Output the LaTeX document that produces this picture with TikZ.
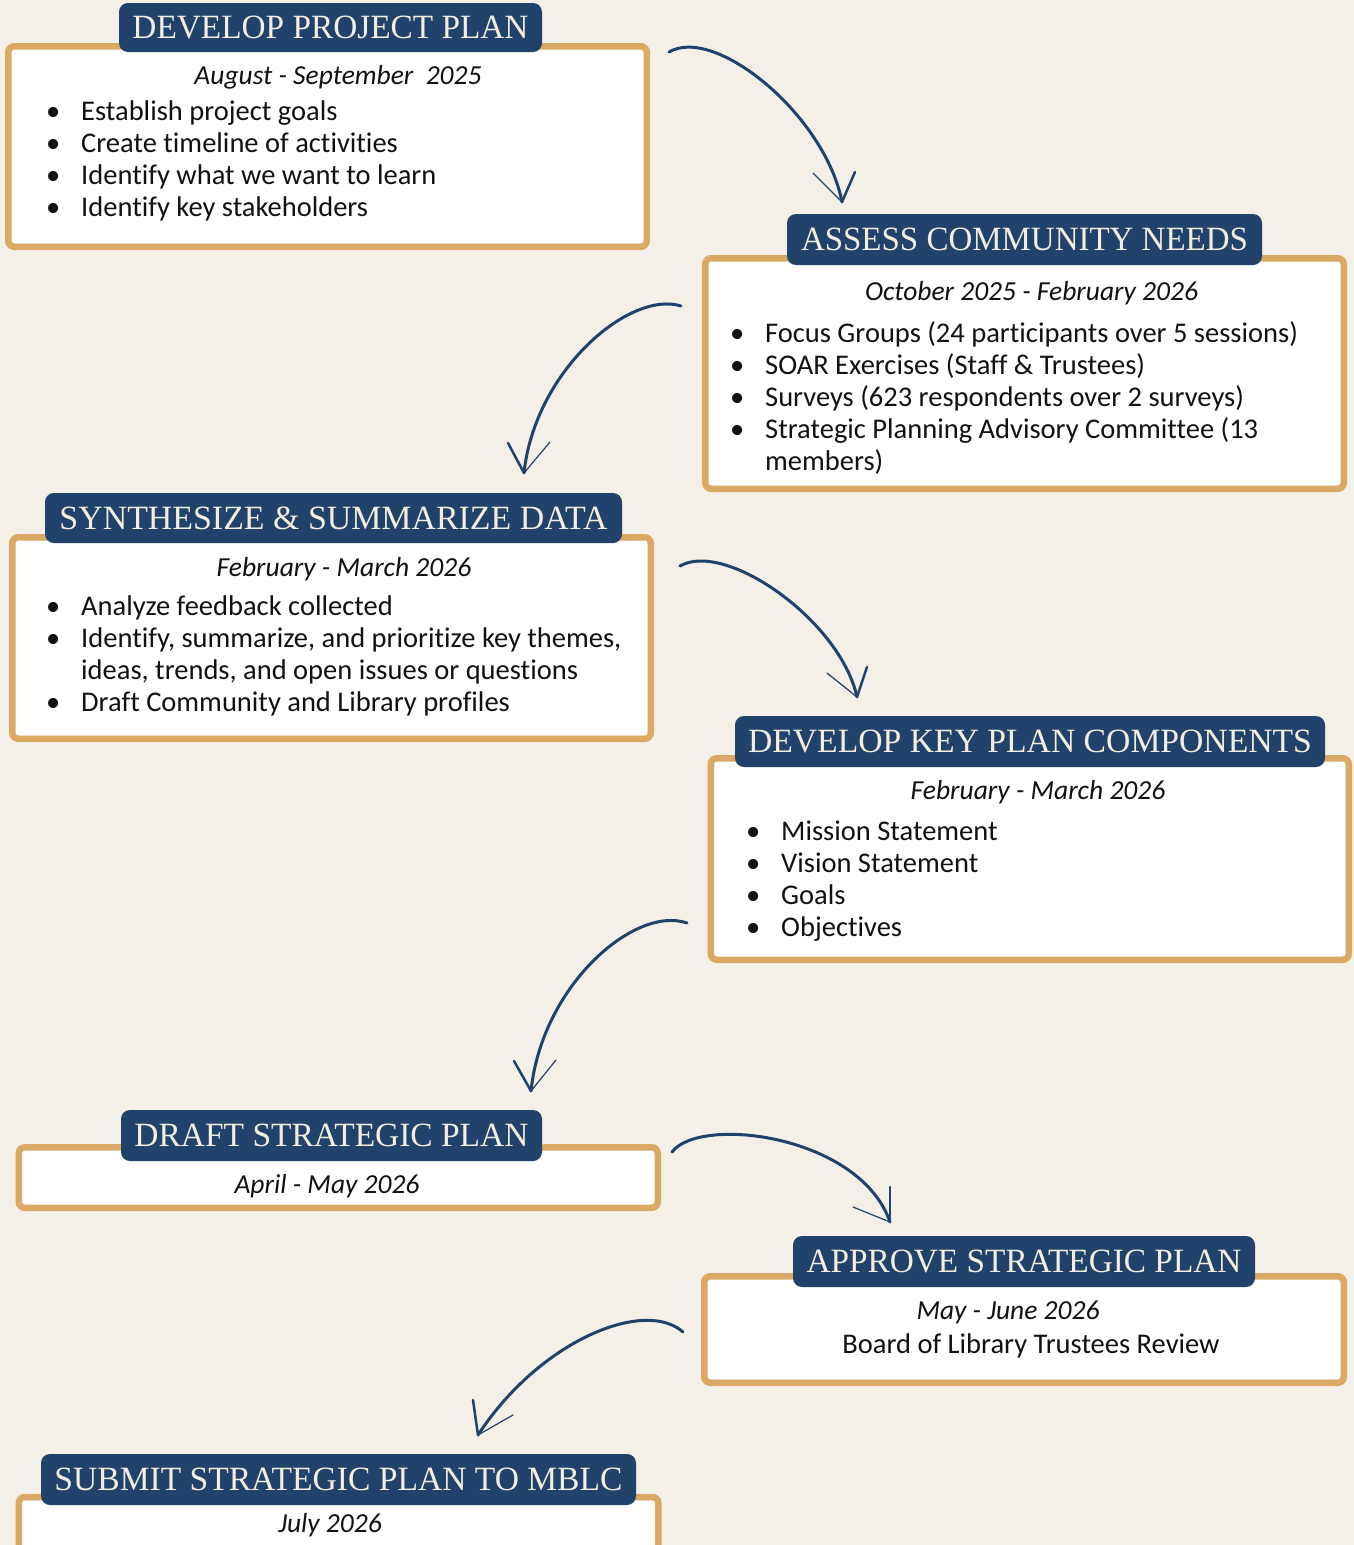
\documentclass[tikz,border=0pt]{standalone}
\usepackage{fontspec}
\setmainfont{Carlito}[Ligatures={NoCommon,NoRare,NoContextual},Contextuals=NoAlternate]
\newfontfamily\titlefont{Liberation Serif}
\definecolor{bgc}{HTML}{F4F0E8}
\definecolor{gold}{HTML}{DAA963}
\definecolor{navy}{HTML}{21426A}
\definecolor{cream}{HTML}{F3EEE2}
\definecolor{ink}{HTML}{111111}
\newcommand\bl{\llap{\makebox[56pt][c]{•}}}
\newcommand\ttl[2]{\resizebox{#1pt}{\height}{\titlefont\fontsize{34}{34}\selectfont #2}}
\tikzset{
  panel/.style={draw=gold, line width=6.5pt, fill=white, rounded corners=6pt, inner sep=0pt},
  tab/.style={fill=navy, rounded corners=9pt, inner sep=0pt, text=cream, text height=22.5pt, text depth=0pt},
  datetxt/.style={font=\fontsize{27.5}{30}\itshape\selectfont, text=ink, anchor=base, inner sep=0pt},
  listtxt/.style={font=\fontsize{28.5}{32}\selectfont, text=ink, anchor=base west, align=left, inner sep=0pt},
  plaintxt/.style={font=\fontsize{28.5}{32}\selectfont, text=ink, anchor=base, inner sep=0pt},
  curve/.style={draw=navy, line width=3pt, line cap=round},
  barbthick/.style={draw=navy, line width=2.5pt, line cap=round},
  barbthin/.style={draw=navy, line width=1.2pt, line cap=round}
}
\begin{document}
\begin{tikzpicture}[x=1pt,y=-1pt]
\clip (0,0) rectangle (1354,1545);
\useasboundingbox (0,0) rectangle (1354,1545);
\fill[bgc] (0,0) rectangle (1354,1545);

% ---------- Box 1
\node[panel, minimum width=638.5pt, minimum height=200.5pt] (b1) at (327.5,146.5) {};
\node[tab, minimum width=423pt, minimum height=49pt] (t1) at (330.5,27.5) {\ttl{396}{DEVELOP PROJECT PLAN}};
\node[datetxt] (d1) at (338,84) {August - September\ \ 2025};
% anchor base = baseline of the last line
\node[listtxt] (l1) at (81,216) {\bl Establish project goals\\ \bl Create timeline of activities\\ \bl Identify what we want to learn\\ \bl Identify key stakeholders};

% ---------- Box 2
\node[panel, minimum width=638.5pt, minimum height=230.5pt] (b2) at (1024.5,373.5) {};
\node[tab, minimum width=475pt, minimum height=51pt] (t2) at (1024.5,239.5) {\ttl{447}{ASSESS COMMUNITY NEEDS}};
\node[datetxt] (d2) at (1031.5,300) {October 2025 - February 2026};
\node[listtxt] (l2) at (765,470) {\bl Focus Groups (24 participants over 5 sessions)\\ \bl SOAR Exercises (Staff \& Trustees)\\ \bl Surveys (623 respondents over 2 surveys)\\ \bl Strategic Planning Advisory Committee (13\\ members)};

% ---------- Box 3
\node[panel, minimum width=638.5pt, minimum height=201.5pt] (b3) at (331.5,638) {};
\node[tab, minimum width=577pt, minimum height=50pt] (t3) at (333.5,518) {\ttl{548}{SYNTHESIZE \& SUMMARIZE DATA}};
\node[datetxt] (d3) at (344,576) {February - March 2026};
\node[listtxt] (l3) at (81,711) {\bl Analyze feedback collected\\ \bl Identify, summarize, and prioritize key themes,\\ ideas, trends, and open issues or questions\\ \bl Draft Community and Library profiles};

% ---------- Box 4
\node[panel, minimum width=638pt, minimum height=201.5pt] (b4) at (1029.75,859) {};
\node[tab, minimum width=590pt, minimum height=51pt] (t4) at (1030,741.5) {\ttl{564}{DEVELOP KEY PLAN COMPONENTS}};
\node[datetxt] (d4) at (1038,799) {February - March 2026};
\node[listtxt] (l4) at (781,936) {\bl Mission Statement\\ \bl Vision Statement\\ \bl Goals\\ \bl Objectives};

% ---------- Box 5
\node[panel, minimum width=639pt, minimum height=60.5pt] (b5) at (338.25,1177.5) {};
\node[tab, minimum width=421pt, minimum height=51pt] (t5) at (331.5,1135.5) {\ttl{394}{DRAFT STRATEGIC PLAN}};
\node[datetxt] (d5) at (327,1193) {April - May 2026};

% ---------- Box 6
\node[panel, minimum width=639.5pt, minimum height=106.5pt] (b6) at (1024,1329.5) {};
\node[tab, minimum width=462pt, minimum height=51pt] (t6) at (1024,1261.5) {\ttl{435}{APPROVE STRATEGIC PLAN}};
\node[datetxt] (d6) at (1008,1319) {May - June 2026};
\node[plaintxt] (r6) at (1031,1353) {Board of Library Trustees Review};

% ---------- Box 7
\node[panel, minimum width=639.5pt, minimum height=100pt] (b7) at (338.6,1547) {};
\node[tab, minimum width=595pt, minimum height=51pt] (t7) at (338.5,1479.5) {\ttl{568}{SUBMIT STRATEGIC PLAN TO MBLC}};
\node[datetxt] (d7) at (330,1532) {July 2026};

% ---------- Arrows
\coordinate (a1s) at (669,52);   \coordinate (a1e) at (842,202);
\coordinate (a2s) at (681,306);  \coordinate (a2e) at (524,473);
\coordinate (a3s) at (680,566);  \coordinate (a3e) at (857,697);
\coordinate (a4s) at (687,923);  \coordinate (a4e) at (531,1091);
\coordinate (a5s) at (672,1152); \coordinate (a5e) at (890,1222);
\coordinate (a6s) at (683,1332); \coordinate (a6e) at (478,1435);

\draw[curve] (a1s) .. controls (715,25) and (825,115) .. (a1e);
\draw[barbthin] (a1e) -- ++(-29,-29);
\draw[barbthick] (a1e) -- ++(13,-30);

\draw[curve] (a2s) .. controls (630,290) and (535,370) .. (a2e);
\draw[barbthick] (a2e) -- ++(-16,-30);
\draw[barbthin] (a2e) -- ++(26,-31);

\draw[curve] (a3s) .. controls (725,540) and (840,620) .. (a3e);
\draw[barbthin] (a3e) -- ++(-30,-24);
\draw[barbthick] (a3e) -- ++(10,-30);

\draw[curve] (a4s) .. controls (635,905) and (542,985) .. (a4e);
\draw[barbthick] (a4e) -- ++(-17,-30);
\draw[barbthin] (a4e) -- ++(25,-31);

\draw[curve] (a5s) .. controls (700,1115) and (860,1135) .. (a5e);
\draw[barbthin] (a5e) -- ++(-37,-15);
\draw[barbthick] (a5e) -- ++(0,-35);

\draw[curve] (a6s) .. controls (645,1298) and (540,1340) .. (a6e);
\draw[barbthick] (a6e) -- ++(-5,-35);
\draw[barbthin] (a6e) -- ++(35,-20);
\end{tikzpicture}
\end{document}
